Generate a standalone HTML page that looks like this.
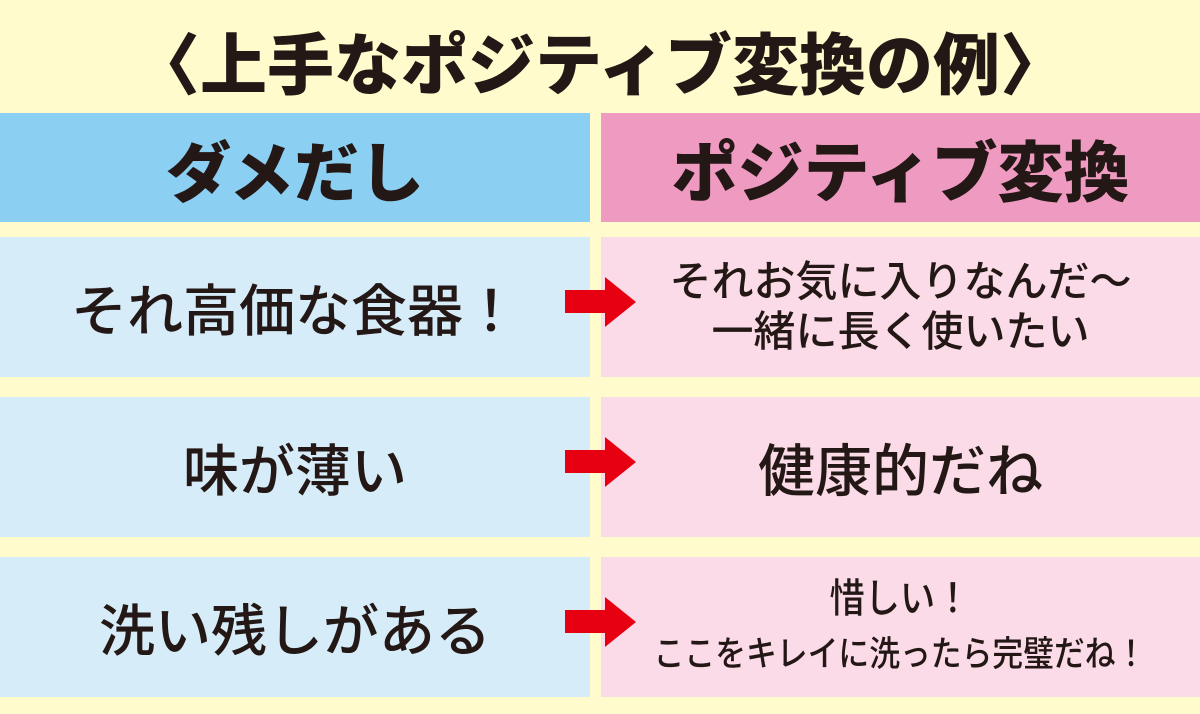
<!DOCTYPE html>
<html><head><meta charset="utf-8"><style>
body{margin:0;width:1200px;height:714px;background:#fffbcd;position:relative;overflow:hidden;font-family:"Liberation Sans","Noto Sans CJK JP",sans-serif;color:#231815}
.b{position:absolute;display:flex;align-items:center;justify-content:center;text-align:center;white-space:nowrap}
.t{left:0;width:1200px;top:16px;height:88px;font-size:67px;font-weight:900}
.hl{left:0;width:590px;top:113px;height:109px;background:#8bcff3;font-size:65px;font-weight:900}
.hr{left:601px;width:599px;top:113px;height:109px;background:#ef9ac0;font-size:66px;font-weight:900}
.l{left:0;width:590px;height:140px;background:#d6ecf9;font-size:56px;font-weight:500}
.r{left:601px;width:599px;height:140px;background:#fadbe7;font-size:57px;font-weight:500}
.s{font-size:42px;line-height:50px}
.sq{display:inline-block;transform:scaleX(0.88)}
svg{position:absolute;left:0;top:0}
</style></head><body>
<div class="b t">〈上手なポジティブ変換の例〉</div>
<div class="b hl">ダメだし</div>
<div class="b hr">ポジティブ変換</div>
<div class="b l" style="top:237px">それ高価な食器！</div>
<div class="b r s" style="top:237px">それお気に入りなんだ〜<br>一緒に長く使いたい</div>
<div class="b l" style="top:397px">味が薄い</div>
<div class="b r" style="top:397px">健康的だね</div>
<div class="b l" style="top:557px">洗い残しがある</div>
<div class="b r" style="top:557px;font-size:35px;line-height:54px;font-weight:500"><div class="sq"><span style="font-size:40px">惜しい！</span><br>ここをキレイに洗ったら完璧だね！</div></div>
<svg width="1200" height="714">
<g fill="#e60012">
<polygon points="565,290 605,290 605,277 636,302 605,327 605,313 565,313"/>
<polygon points="565,450 605,450 605,437 636,462 605,487 605,473 565,473"/>
<polygon points="565,610 605,610 605,597 636,622 605,647 605,633 565,633"/>
</g></svg>
</body></html>
